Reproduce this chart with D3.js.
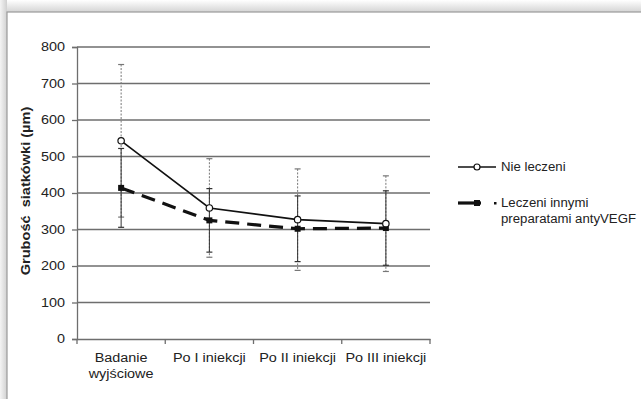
<!DOCTYPE html>
<html>
<head>
<meta charset="utf-8">
<title>Grubość siatkówki</title>
<script src="https://d3js.org/d3.v7.min.js"></script>
<style>
  html, body { margin: 0; padding: 0; background: #fff; }
  svg { display: block; font-family: "Liberation Sans", Arial, sans-serif; }
</style>
</head>
<body>
<div id="chart"></div>
<script>
// dane
var categories = ["Badanie\nwyjściowe", "Po I iniekcji", "Po II iniekcji", "Po III iniekcji"];
var nieLeczeni = [543, 359, 327, 316];
var nieLeczeniSD = [209, 135, 139, 131];
var leczeni = [414, 325, 302, 304];
var leczeniSD = [108, 87, 90, 102];
var yTicks = [0, 100, 200, 300, 400, 500, 600, 700, 800];
var seriesNames = ["Nie leczeni", "Leczeni innymi\npreparatami antyVEGF"];

var W = 641, H = 399;
var margin = {top: 47, left: 77, right: 211, bottom: 60};
var width = W - margin.left - margin.right,
    height = H - margin.top - margin.bottom;

// tekst w oryginale jest nieco rozciagniety w poziomie
function stretch(sel, k) {
  sel.each(function() {
    var l = this.getComputedTextLength();
    d3.select(this).attr("textLength", l * k).attr("lengthAdjust", "spacingAndGlyphs");
  });
}

var svg = d3.select("#chart").append("svg")
    .attr("width", W).attr("height", H);

// cien ramki
var defs = svg.append("defs");
var gTop = defs.append("linearGradient").attr("id", "shTop").attr("x1", 0).attr("y1", 0).attr("x2", 0).attr("y2", 1);
gTop.append("stop").attr("offset", "0%").attr("stop-color", "#ffffff");
gTop.append("stop").attr("offset", "100%").attr("stop-color", "#d4d4d4");
var gLeft = defs.append("linearGradient").attr("id", "shLeft").attr("x1", 0).attr("y1", 0).attr("x2", 1).attr("y2", 0);
gLeft.append("stop").attr("offset", "0%").attr("stop-color", "#f4f4f4");
gLeft.append("stop").attr("offset", "100%").attr("stop-color", "#d0d0d0");

svg.append("rect").attr("x", 0).attr("y", 0).attr("width", W).attr("height", 12).attr("fill", "url(#shTop)");
svg.append("rect").attr("x", 0).attr("y", 0).attr("width", 7).attr("height", H).attr("fill", "url(#shLeft)");
svg.append("rect").attr("x", 7).attr("y", 12).attr("width", W).attr("height", H)
    .attr("fill", "#fff").attr("stroke", "#9a9a9a").attr("stroke-width", 1.2);

var g = svg.append("g").attr("transform", "translate(" + margin.left + "," + margin.top + ")");

var x = d3.scaleBand().domain(categories).range([0, width]);
var y = d3.scaleLinear().domain([0, 800]).range([height, 0]);
var cx = function(i) { return x(categories[i]) + x.bandwidth() / 2; };

// linie siatki
g.selectAll(".grid").data(yTicks.filter(function(d) { return d > 0; }))
  .enter().append("line")
    .attr("x1", 0).attr("x2", width)
    .attr("y1", function(d) { return y(d); }).attr("y2", function(d) { return y(d); })
    .attr("stroke", "#6e6e6e").attr("stroke-width", 1.3);

// os Y
var yAxis = g.append("g")
    .call(d3.axisLeft(y).tickValues(yTicks).tickSize(5).tickPadding(7));
yAxis.select(".domain").attr("stroke", "#6e6e6e").attr("stroke-width", 1.3);
yAxis.selectAll(".tick line").attr("stroke", "#6e6e6e").attr("stroke-width", 1.3);
yAxis.selectAll("text").attr("font-size", 12).attr("fill", "#222").call(stretch, 1.2);

// os X
var xAxis = g.append("g").attr("transform", "translate(0," + height + ")")
    .call(d3.axisBottom(x).tickSize(0).tickFormat(""));
xAxis.select(".domain").attr("stroke", "#6e6e6e").attr("stroke-width", 1.3);
g.selectAll(".xtick").data(d3.range(categories.length + 1))
  .enter().append("line")
    .attr("x1", function(i) { return i * x.bandwidth(); })
    .attr("x2", function(i) { return i * x.bandwidth(); })
    .attr("y1", height).attr("y2", height + 5)
    .attr("stroke", "#6e6e6e").attr("stroke-width", 1.3);

categories.forEach(function(c, i) {
  var t = g.append("text").attr("text-anchor", "middle").attr("font-size", 12).attr("fill", "#222")
      .attr("y", height + 23);
  c.split("\n").forEach(function(line, k) {
    t.append("tspan").attr("x", cx(i)).attr("dy", k === 0 ? 0 : 16).text(line);
  });
  t.selectAll("tspan").call(stretch, 1.2);
});

// tytul osi Y
svg.append("text")
    .attr("transform", "translate(30," + (margin.top + height / 2 - 2) + ") rotate(-90)")
    .attr("text-anchor", "middle").attr("font-size", 13).attr("font-weight", "bold").attr("fill", "#222")
    .text("Grubość\u00a0\u00a0siatkówki (µm)")
    .call(stretch, 1.12);

// slupki bledow
function errorBars(vals, sd, dash, color) {
  vals.forEach(function(v, i) {
    var xx = cx(i), hi = y(v + sd[i]), lo = y(v - sd[i]);
    g.append("line").attr("x1", xx).attr("x2", xx).attr("y1", hi).attr("y2", lo)
      .attr("stroke", color).attr("stroke-width", 1).attr("stroke-dasharray", dash);
    [hi, lo].forEach(function(yy) {
      g.append("line").attr("x1", xx - 3).attr("x2", xx + 3).attr("y1", yy).attr("y2", yy)
        .attr("stroke", color).attr("stroke-width", 1.2);
    });
  });
}
errorBars(nieLeczeni, nieLeczeniSD, "2,1.5", "#777");
errorBars(leczeni, leczeniSD, null, "#333");

var line = d3.line().x(function(d, i) { return cx(i); }).y(function(d) { return y(d); });

// seria leczeni - przerywana
g.append("path").datum(leczeni)
  .attr("fill", "none").attr("stroke", "#111").attr("stroke-width", 3.2)
  .attr("stroke-dasharray", "14,8").attr("d", line);
g.selectAll(".mk2").data(leczeni).enter().append("rect")
  .attr("x", function(d, i) { return cx(i) - 3; }).attr("y", function(d) { return y(d) - 3; })
  .attr("width", 6).attr("height", 6).attr("fill", "#111");

// seria nie leczeni - ciagla
g.append("path").datum(nieLeczeni)
  .attr("fill", "none").attr("stroke", "#111").attr("stroke-width", 1.6).attr("d", line);
g.selectAll(".mk1").data(nieLeczeni).enter().append("circle")
  .attr("cx", function(d, i) { return cx(i); }).attr("cy", function(d) { return y(d); })
  .attr("r", 3.2).attr("fill", "#fff").attr("stroke", "#111").attr("stroke-width", 1.2);

// legenda
var lg = svg.append("g");
lg.append("line").attr("x1", 458).attr("x2", 496).attr("y1", 167).attr("y2", 167)
  .attr("stroke", "#111").attr("stroke-width", 1.6);
lg.append("circle").attr("cx", 477).attr("cy", 167).attr("r", 3).attr("fill", "#fff")
  .attr("stroke", "#111").attr("stroke-width", 1.2);
lg.append("text").attr("x", 501).attr("y", 171).attr("font-size", 12).attr("fill", "#222")
  .text(seriesNames[0]).call(stretch, 1.1);

lg.append("line").attr("x1", 458).attr("x2", 481).attr("y1", 203).attr("y2", 203)
  .attr("stroke", "#111").attr("stroke-width", 3.2);
lg.append("rect").attr("x", 474).attr("y", 200).attr("width", 6).attr("height", 6).attr("fill", "#111");
lg.append("rect").attr("x", 494).attr("y", 202).attr("width", 2.5).attr("height", 2.5).attr("fill", "#111");
var t2 = lg.append("text").attr("font-size", 12).attr("fill", "#222").attr("y", 207);
seriesNames[1].split("\n").forEach(function(s, k) {
  t2.append("tspan").attr("x", 501).attr("dy", k === 0 ? 0 : 16).text(s);
});
t2.selectAll("tspan").call(stretch, 1.1);
</script>
</body>
</html>
